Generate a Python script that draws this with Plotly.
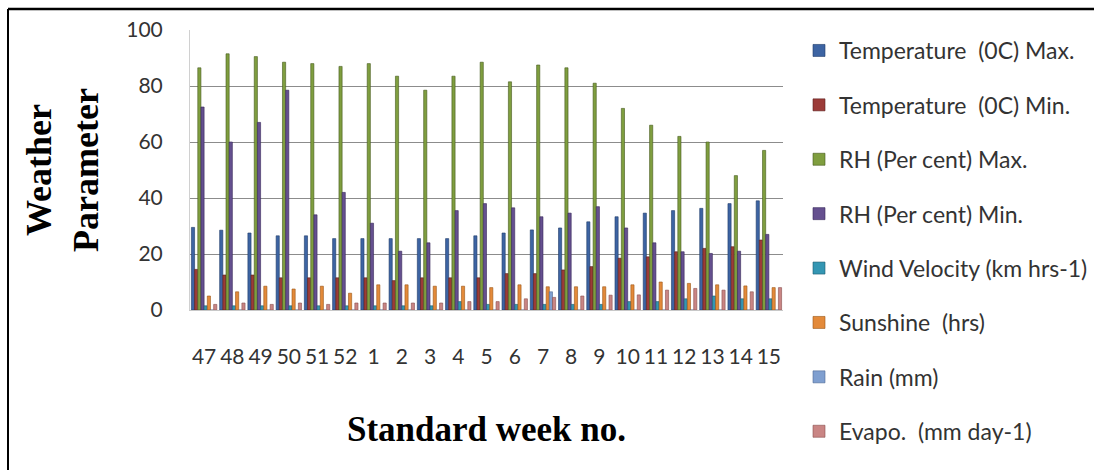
import plotly.graph_objects as go

weeks = ["47", "48", "49", "50", "51", "52", "1", "2", "3", "4", "5",
         "6", "7", "8", "9", "10", "11", "12", "13", "14", "15"]

temp_max = [29.5, 28.5, 27.5, 26.5, 26.5, 25.5, 25.5, 25.5, 25.5, 25.5, 26.5,
            27.5, 28.6, 29.3, 31.5, 33.3, 34.6, 35.5, 36.3, 38.0, 39.0]
temp_min = [14.5, 12.5, 12.5, 11.5, 11.5, 11.5, 11.5, 10.5, 11.5, 11.5, 11.5,
            13.0, 13.0, 14.3, 15.5, 18.5, 19.0, 20.8, 22.0, 22.6, 25.0]
rh_max = [86.5, 91.5, 90.5, 88.5, 88.0, 87.0, 88.0, 83.5, 78.5, 83.5, 88.5,
          81.5, 87.5, 86.5, 81.0, 72.0, 66.0, 62.0, 60.0, 48.0, 57.0]
rh_min = [72.5, 60.0, 67.0, 78.5, 34.0, 42.0, 31.0, 21.0, 24.0, 35.5, 38.0,
          36.5, 33.3, 34.6, 36.9, 29.3, 24.0, 20.8, 20.2, 21.0, 27.0]
wind = [1.5, 1.5, 1.5, 1.5, 1.5, 1.5, 1.5, 1.5, 1.5, 3.0, 2.0,
        2.0, 2.0, 2.0, 2.0, 3.0, 3.0, 4.0, 5.0, 4.0, 4.0]
sunshine = [5.0, 6.5, 8.5, 7.5, 8.5, 6.0, 9.0, 9.0, 8.5, 8.5, 8.0,
            9.0, 8.3, 8.3, 8.3, 9.0, 10.0, 9.5, 9.0, 8.6, 8.0]
rain = [0.0, 0.0, 0.0, 0.0, 0.0, 0.0, 0.0, 0.0, 0.0, 0.0, 0.0,
        0.0, 6.5, 0.0, 0.0, 0.0, 0.0, 0.0, 0.0, 0.0, 0.0]
evapo = [2.0, 2.5, 2.0, 2.5, 2.0, 2.5, 2.5, 2.5, 2.5, 3.0, 3.0,
         4.0, 4.5, 5.0, 5.3, 5.4, 7.1, 7.7, 7.1, 6.5, 8.0]

series = [
    ("Temperature  (0C) Max.", temp_max, "#3d64a3", "#1f3a68"),
    ("Temperature  (0C) Min.", temp_min, "#9c3b38", "#5a1f1d"),
    ("RH (Per cent) Max.", rh_max, "#7f9e3f", "#44591c"),
    ("RH (Per cent) Min.", rh_min, "#65508f", "#352659"),
    ("Wind Velocity (km hrs-1)", wind, "#3496b3", "#1b5b6e"),
    ("Sunshine  (hrs)", sunshine, "#e38a3a", "#9a5516"),
    ("Rain (mm)", rain, "#7f9fd0", "#4f6a95"),
    ("Evapo.  (mm day-1)", evapo, "#c98584", "#8a4f4e"),
]

fig = go.Figure()
for i, (name, vals, col, edge) in enumerate(series):
    fig.add_trace(go.Bar(
        x=weeks, y=vals, name=name, legendgroup=f"g{i}",
        marker=dict(color=col, line=dict(color=edge, width=0.6)),
    ))

fig.update_layout(
    width=1094, height=470,
    margin=dict(l=190, r=311, t=30, b=160, autoexpand=False),
    paper_bgcolor="white", plot_bgcolor="white",
    barmode="group", bargap=0.1, bargroupgap=0.0,
    font=dict(family="Lato", size=18, color="#333333"),
    showlegend=True,
    legend=dict(
        xref="container", yref="container",
        x=799 / 1094, y=1 - 29 / 470, xanchor="left", yanchor="top",
        font=dict(family="Lato", size=23, color="#333333"),
        tracegroupgap=21.5, itemwidth=30, bgcolor="rgba(0,0,0,0)",
        maxheight=460,
    ),
    xaxis=dict(
        type="category", showgrid=False, showline=True,
        linecolor="#c8c8c8", linewidth=1,
        tickfont=dict(family="Lato", size=21, color="#333333"),
        ticklabelstandoff=28,
        title=dict(text="<b>Standard week no.</b>",
                   font=dict(family="Liberation Serif", size=35, color="black"),
                   standoff=49),
    ),
    yaxis=dict(
        range=[0, 100], dtick=20, showgrid=True, gridcolor="#8c8c8c",
        gridwidth=1, showline=True, linecolor="#d0d0d0", zeroline=False,
        tickfont=dict(family="Lato", size=21, color="#333333"),
        ticklabelstandoff=22,
        title=dict(text="<b>Weather<br>Parameter</b>",
                   font=dict(family="Liberation Serif", size=36, color="black"),
                   standoff=16),
    ),
    shapes=[
        dict(type="line", xref="paper", yref="paper",
             x0=(8 - 190) / 593, x1=(1094 - 190) / 593,
             y0=(310 - 9) / 280, y1=(310 - 9) / 280,
             line=dict(color="black", width=2.5)),
        dict(type="line", xref="paper", yref="paper",
             x0=(8 - 190) / 593, x1=(8 - 190) / 593,
             y0=(310 - 9) / 280, y1=(310 - 470) / 280,
             line=dict(color="black", width=2)),
    ],
)

fig.write_html("out.html")
